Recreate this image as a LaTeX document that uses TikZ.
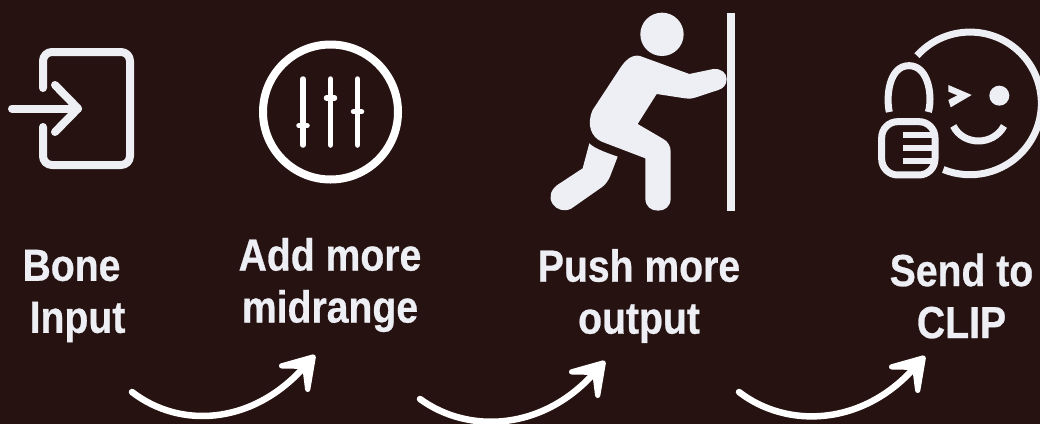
\documentclass[tikz,border=0pt]{standalone}
\usepackage{fontspec}
\usepackage{xcolor}
\usetikzlibrary{arrows.meta}
\setmainfont[FakeStretch=0.87, BoldFeatures={FakeBold=0.6}]{Liberation Sans}
\definecolor{mybg}{RGB}{38,18,17}
\definecolor{myicon}{RGB}{237,239,245}

\begin{document}
\begin{tikzpicture}[
    x=1pt, y=-1pt,
    label/.style={text=myicon, font=\bfseries\fontsize{45}{52}\selectfont, align=center},
    icon/.style={draw=myicon, line width=8pt, line cap=round, line join=round},
    slider/.style={draw=white, line width=5.5pt, line cap=round},
    solid/.style={fill=myicon, draw=none},
    hand/.style={draw=white, line width=6.5pt, line cap=round, -{Stealth[length=46pt, width=58pt, inset=25pt, round]}}
]
    \fill[mybg] (0,0) rectangle (1040,424);
    \useasboundingbox (0,0) rectangle (1040,424);

    % door icon
    \draw[icon, rounded corners=9pt] (43,88) -- (43,52) -- (130,52) -- (130,165) -- (43,165) -- (43,127);
    \draw[icon] (12,108.5) -- (78,108.5);
    \draw[icon] (55,85) -- (78,108.5) -- (55,132);

    % mixer icon
    \draw[draw=white, line width=8pt] (330.5,112) circle (67.5);
    \draw[slider] (303,79) -- (303,145);
    \draw[slider] (330.5,79) -- (330.5,145);
    \draw[slider] (357.5,79) -- (357.5,145);
    \draw[slider] (299,125.7) -- (307,125.7);
    \draw[slider] (326.5,98) -- (334.5,98);
    \draw[slider] (353.5,111.7) -- (361.5,111.7);

    % pushing figure
    \begin{scope}[x=0.3333pt, y=-0.3333pt, shift={(530pt,0pt)}]
        \fill[solid] (396,103) circle (65pt*0.3333);
        \fill[solid] (590,40) rectangle (615,632);
        \fill[solid] (330,168) -- (478,222) -- (550,207) .. controls (575,205) and (590,220) .. (590,237)
            .. controls (590,255) and (580,265) .. (565,270) -- (495,293) .. controls (485,297) and (475,297) .. (465,295)
            -- (380,282) -- (323,372) -- (400,417) .. controls (415,425) and (422,440) .. (422,455) -- (422,595)
            .. controls (422,620) and (405,632) .. (384,632) .. controls (363,632) and (346,620) .. (346,595)
            -- (346,475) -- (215,425) .. controls (185,412) and (168,375) .. (188,330) -- (270,205)
            .. controls (285,182) and (305,162) .. (330,168) -- cycle;
        \fill[solid] (178,430) .. controls (195,447) and (235,460) .. (263,470) -- (240,530)
            .. controls (233,545) and (225,555) .. (215,562) -- (125,625) .. controls (105,637) and (80,630) .. (68,612)
            .. controls (55,592) and (62,570) .. (82,555) -- (158,505) -- cycle;
    \end{scope}

    % winking face with lock
    \begin{scope}[x=0.3333pt, y=-0.3333pt, shift={(860pt,-20pt)}]
        \draw[draw=myicon, line width=7pt] (171,107) arc[start angle=-138, end angle=112, radius=214];
        \draw[draw=myicon, line width=7pt] (88,276) .. controls (78,235) and (85,137) .. (147,137)
            .. controls (208,137) and (218,235) .. (205,276);
        \draw[draw=myicon, line width=7pt, rounded corners=16pt] (65,305) rectangle (225,465);
        \draw[draw=myicon, line width=5.7pt] (128,346) -- (215,346);
        \draw[draw=myicon, line width=5.7pt] (128,384) -- (215,384);
        \draw[draw=myicon, line width=5.7pt] (128,423) -- (215,423);
        \fill[solid] (265,195) -- (335,225) -- (272,262) -- (265,240) -- (292,226) -- (265,215) -- cycle;
        \fill[solid] (418,227) circle (30pt*0.3333);
        \draw[draw=myicon, line width=7pt] (280,318) .. controls (310,378) and (400,378) .. (432,318);
    \end{scope}

    % labels
    \node[label] (bone) at (77.5,296) {Bone\kern12pt\\Input};
    \node[label] (midrange) at (330,285) {Add more\\midrange};
    \node[label] (output) at (639,296) {Push more\\output};
    \node[label] (clip) at (961.5,296) {Send to\\CLIP};

    % curved arrows
    \coordinate (a1) at (132,392);
    \coordinate (b1) at (315,355);
    \coordinate (a2) at (420,399);
    \coordinate (b2) at (605,361);
    \coordinate (a3) at (739,392);
    \coordinate (b3) at (925,356);
    \draw[hand] (a1) .. controls (180,429) and (252,425) .. (b1);
    \draw[hand] (a2) .. controls (468,434) and (542,431) .. (b2);
    \draw[hand] (a3) .. controls (787,429) and (862,426) .. (b3);
\end{tikzpicture}
\end{document}
